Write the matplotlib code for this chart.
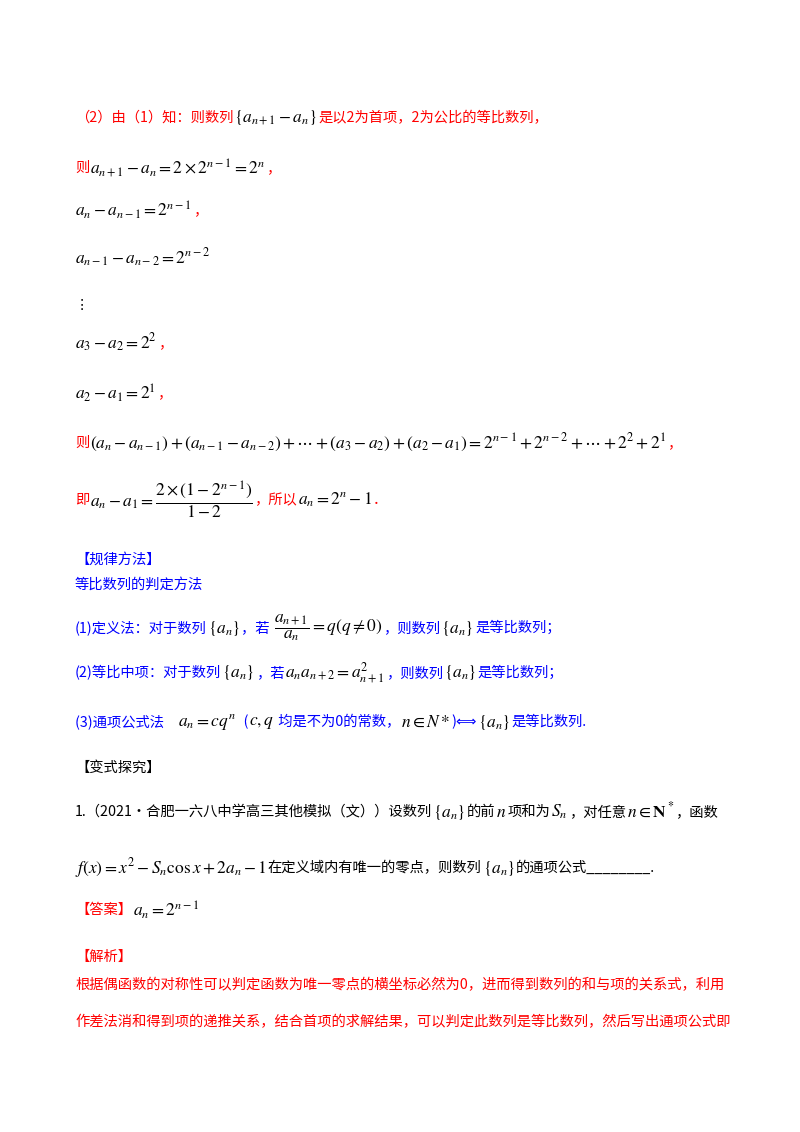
import matplotlib
matplotlib.use("Agg")
import matplotlib.pyplot as plt

plt.rcParams['font.family'] = ['Noto Sans CJK SC', 'DejaVu Sans']
plt.rcParams['mathtext.fontset'] = 'stix'

R, B, K = '#ff0000', '#0000ff', '#000000'
FS, MS = 10.3, 12.5

line_y = [118, 168, 210, 258, 305, 343, 393, 443, 500, 560, 585, 628, 673, 722, 768, 812, 868, 910, 957, 985, 1022]
line_segs = [
    [("（2）由（1）知：则数列", R), (r"$\{a_{n+1}-a_n\}$", K), ("是以2为首项，2为公比的等比数列，", R)],
    [("则", R), (r"$a_{n+1}-a_n=2\times2^{n-1}=2^n$", K), ("，", R)],
    [(r"$a_n-a_{n-1}=2^{n-1}$", K), ("，", R)],
    [(r"$a_{n-1}-a_{n-2}=2^{n-2}$", K)],
    [("⋮", K)],
    [(r"$a_3-a_2=2^2$", K), ("，", R)],
    [(r"$a_2-a_1=2^1$", K), ("，", R)],
    [("则", R), (r"$(a_n-a_{n-1})+(a_{n-1}-a_{n-2})+\cdots+(a_3-a_2)+(a_2-a_1)=2^{n-1}+2^{n-2}+\cdots+2^2+2^1$", K), ("，", R)],
    [("即", R), (r"$a_n-a_1=\dfrac{2\times(1-2^{n-1})}{1-2}$", K), ("，所以", R), (r"$a_n=2^n-1$", K), ("．", R)],
    [("【规律方法】", B)],
    [("等比数列的判定方法", B)],
    [("(1)定义法：对于数列", B), (r"$\{a_n\}$", K), ("，若 ", B), (r"$\dfrac{a_{n+1}}{a_n}=q(q\neq0)$", K), ("，则数列", B), (r"$\{a_n\}$", K), ("是等比数列；", B)],
    [("(2)等比中项：对于数列", B), (r"$\{a_n\}$", K), ("，若", B), (r"$a_na_{n+2}=a_{n+1}^2$", K), ("，则数列", B), (r"$\{a_n\}$", K), ("是等比数列；", B)],
    [("(3)通项公式法    ", B), (r"$a_n=cq^n$", K), ("  (", B), (r"$c,q$", K), (" 均是不为0的常数，", B), (r"$n\in N*$", K), (")⟺", B), (r"$\{a_n\}$", K), ("是等比数列.", B)],
    [("【变式探究】", K)],
    [("1.（2021·合肥一六八中学高三其他模拟（文））设数列", K), (r"$\{a_n\}$", K), ("的前", K), (r"$n$", K), ("项和为", K), (r"$S_n$", K), ("，对任意", K), (r"$n\in\mathbf{N}^*$", K), ("，函数", K)],
    [(r"$f(x)=x^2-S_n\cos x+2a_n-1$", K), ("在定义域内有唯一的零点，则数列", K), (r"$\{a_n\}$", K), ("的通项公式________.", K)],
    [("【答案】", R), (r"$a_n=2^{n-1}$", K)],
    [("【解析】", R)],
    [("根据偶函数的对称性可以判定函数为唯一零点的横坐标必然为0，进而得到数列的和与项的关系式，利用", R)],
    [("作差法消和得到项的递推关系，结合首项的求解结果，可以判定此数列是等比数列，然后写出通项公式即", R)],
]

W, H = 800, 1132
fig = plt.figure(figsize=(W / 100, H / 100), dpi=100)
fig.patch.set_facecolor('white')
renderer = fig.canvas.get_renderer()

for y, segs in zip(line_y, line_segs):
    x = 75
    for txt, col in segs:
        size = MS if txt.startswith('$') else FS
        t = fig.text(x / W, 1 - y / H, txt, color=col, fontsize=size, va='center', ha='left')
        x += t.get_window_extent(renderer).width + 1

fig.savefig("out.png", dpi=100, facecolor='white')
